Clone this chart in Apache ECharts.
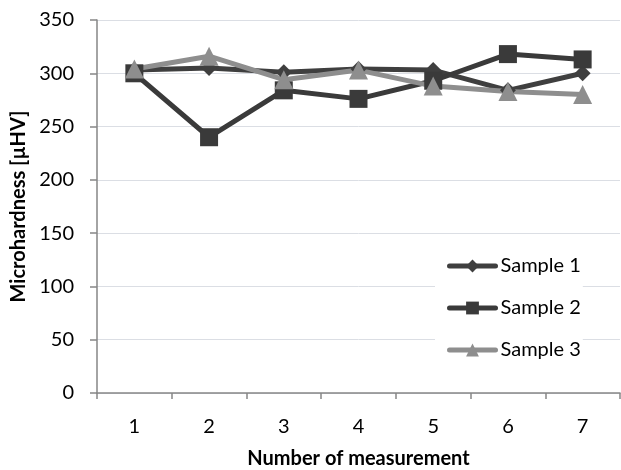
<!DOCTYPE html>
<html><head><meta charset="utf-8">
<script src="https://cdn.jsdelivr.net/npm/echarts@6/dist/echarts.min.js"></script>
<style>html,body{margin:0;padding:0;background:#fff}#c{width:621px;height:470px}</style>
</head><body><div id="c"></div>
<script>
const categories = ['1','2','3','4','5','6','7'];
const sample1 = [303, 305, 301, 304, 303, 284, 300];
const sample2 = [300, 240, 284, 276, 293, 318, 313];
const sample3 = [304, 316, 294, 303, 288, 283, 280];
const yTicks = {min: 0, max: 350, interval: 50};

const font = 'Lato, "Open Sans", sans-serif';
const chart = echarts.init(document.getElementById('c'));
function s(name, data, symbol, color, size) {
  return {name, type: 'line', data, symbol, symbolSize: size, showSymbol: true,
    lineStyle: {color, width: 5}, itemStyle: {color, borderWidth: 0}, z: 3};
}
chart.setOption({
  animation: false,
  backgroundColor: '#fff',
  grid: {left: 97, top: 20, right: 1, bottom: 77, containLabel: false, outerBoundsMode: 'none'},
  xAxis: {type: 'category', data: categories, boundaryGap: true,
    name: 'Number of measurement', nameLocation: 'middle', nameGap: 56,
    nameTextStyle: {fontFamily: font, fontWeight: 'bold', fontSize: 20, color: '#000'},
    axisLine: {lineStyle: {color: '#868686', width: 1.5}},
    axisTick: {show: true, length: 6, lineStyle: {color: '#868686', width: 1.5}},
    axisLabel: {fontFamily: font, fontSize: 20, color: '#000', margin: 24}},
  yAxis: {type: 'value', min: yTicks.min, max: yTicks.max, interval: yTicks.interval,
    name: 'Microhardness [µHV]', nameLocation: 'middle', nameGap: 64,
    nameTextStyle: {fontFamily: font, fontWeight: 'bold', fontSize: 20, color: '#000'},
    axisLine: {show: true, lineStyle: {color: '#868686', width: 1.5}},
    axisTick: {show: true, length: 7, lineStyle: {color: '#868686', width: 1.5}},
    axisLabel: {fontFamily: font, fontSize: 20, color: '#000', margin: 23}},
  legend: {orient: 'vertical', left: 435, top: 248, itemGap: 22, itemWidth: 46, itemHeight: 16,
    backgroundColor: '#fff', padding: [8, 2, 8, 12],
    lineStyle: {width: 5, cap: 'round'},
    textStyle: {fontFamily: font, fontSize: 20, color: '#000', padding: [0, 0, 0, 0]},
    data: ['Sample 1', 'Sample 2', 'Sample 3']},
  series: [
    s('Sample 1', sample1, 'diamond', '#3f3f3f', 16),
    s('Sample 2', sample2, 'rect', '#3a3a3a', 18),
    s('Sample 3', sample3, 'triangle', '#8e8e8e', 19)
  ]
});
</script></body></html>
